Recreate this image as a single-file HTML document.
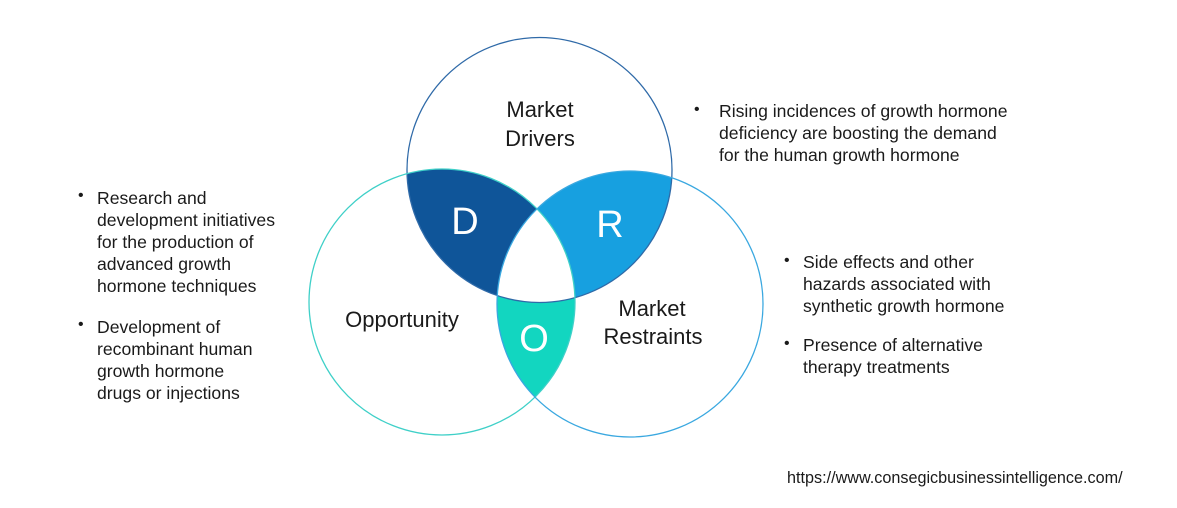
<!DOCTYPE html>
<html><head><style>
body{margin:0;width:1177px;height:508px;background:#fff;position:relative;font-family:"Liberation Sans",sans-serif;color:#1a1a1a;overflow:hidden}
.t{position:absolute;font-size:17.6px;line-height:22px;white-space:nowrap}
.b{position:absolute;font-size:16px}
</style></head><body>
<svg width="1177" height="508" style="position:absolute;left:0;top:0">
<defs>
<clipPath id="ct"><circle cx="539.5" cy="170" r="132.5"/></clipPath>
<clipPath id="cl"><circle cx="442" cy="302" r="133"/></clipPath>
<clipPath id="cr"><circle cx="630" cy="304" r="133"/></clipPath>
</defs>
<g clip-path="url(#ct)"><circle cx="442" cy="302" r="133" fill="#0f5599"/><circle cx="630" cy="304" r="133" fill="#17a0e0"/></g>
<g clip-path="url(#cl)"><circle cx="630" cy="304" r="133" fill="#12d6c0"/></g>
<g clip-path="url(#ct)"><g clip-path="url(#cl)"><circle cx="630" cy="304" r="133" fill="#fff"/></g></g>
<circle cx="539.5" cy="170" r="132.5" fill="none" stroke="#2f6aa8" stroke-width="1.3"/>
<circle cx="442" cy="302" r="133" fill="none" stroke="#3fd0c8" stroke-width="1.3"/>
<circle cx="630" cy="304" r="133" fill="none" stroke="#3aa8e0" stroke-width="1.3"/>
<g font-family="Liberation Sans, sans-serif" font-size="22" fill="#1a1a1a" text-anchor="middle">
<text x="540" y="117">Market</text><text x="540" y="146">Drivers</text>
<text x="402" y="327">Opportunity</text>
<text x="652" y="316">Market</text><text x="653" y="344">Restraints</text>
</g>
<g font-family="Liberation Sans, sans-serif" font-size="38" fill="#fff" text-anchor="middle">
<text x="465" y="234">D</text><text x="610" y="237">R</text><text x="534" y="351">O</text>
</g>
</svg>
<div class="b" style="left:694px;top:101px">•</div>
<div class="t" style="left:719px;top:100px">Rising incidences of growth hormone<br>deficiency are boosting the demand<br>for the human growth hormone</div>
<div class="b" style="left:78px;top:187px">•</div>
<div class="t" style="left:97px;top:187px">Research and<br>development initiatives<br>for the production of<br>advanced growth<br>hormone techniques</div>
<div class="b" style="left:78px;top:316px">•</div>
<div class="t" style="left:97px;top:316px">Development of<br>recombinant human<br>growth hormone<br>drugs or injections</div>
<div class="b" style="left:784px;top:252px">•</div>
<div class="t" style="left:803px;top:251px">Side effects and other<br>hazards associated with<br>synthetic growth hormone</div>
<div class="b" style="left:784px;top:335px">•</div>
<div class="t" style="left:803px;top:334px">Presence of alternative<br>therapy treatments</div>
<div class="t" style="left:787px;top:467px;font-size:16.2px">https://www.consegicbusinessintelligence.com/</div>
</body></html>
